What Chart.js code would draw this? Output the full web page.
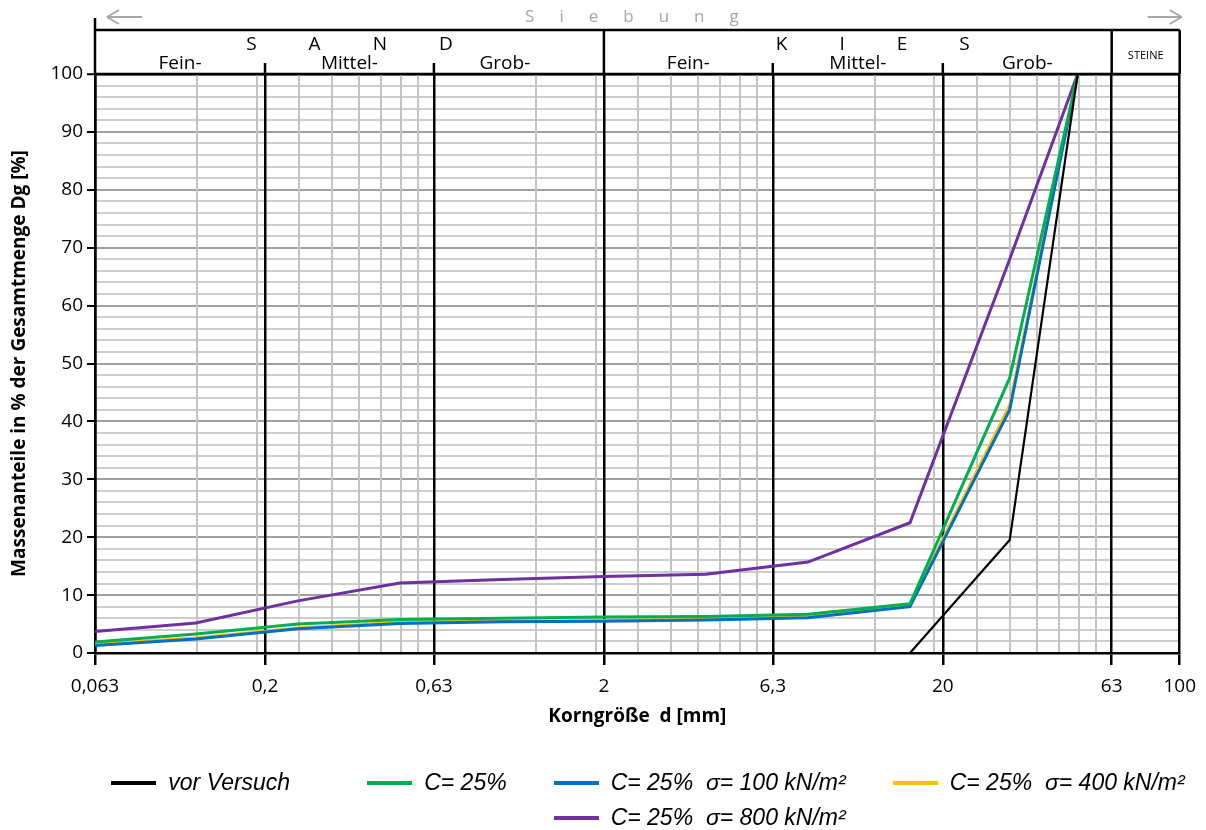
<!DOCTYPE html>
<html>
<head>
<meta charset="utf-8">
<script src="https://cdn.jsdelivr.net/npm/chart.js@4.4.0/dist/chart.umd.min.js"></script>
<style>
  html, body { margin: 0; padding: 0; background: #fff; }
  #wrap { position: relative; width: 1206px; height: 830px; overflow: hidden; }
  #legend {
    position: absolute; left: 45px; top: 769px; width: 1206px;
    display: grid; grid-template-columns: repeat(4, auto);
    column-gap: 47px; row-gap: 8px; justify-content: center;
    font: italic 23px "Liberation Sans", Arial, sans-serif; color: #000;
  }
  .item { display: flex; align-items: center; white-space: pre; line-height: 27px; }
  .swatch { width: 45px; height: 4px; margin-right: 12px; }
</style>
</head>
<body>
<div id="wrap">
  <canvas id="myChart" width="1206" height="830"></canvas>
  <div id="legend"></div>
</div>
<script>
// sieve sizes [mm]
const sizes = [0.063, 0.125, 0.25, 0.5, 1, 2, 4, 8, 16, 31.5, 50];

// passing [%]
const vorVersuch = [null, null, null, null, null, null, null, null, 0, 19.5, 100];
const c25 = [1.9, 3.3, 5.0, 5.8, 6.0, 6.2, 6.3, 6.7, 8.5, 47.5, 100];
const c25s100 = [1.3, 2.4, 4.2, 5.1, 5.4, 5.5, 5.7, 6.1, 8.0, 42, 100];
const c25s400 = [1.5, 2.6, 4.3, 5.3, 5.5, 5.6, 5.8, 6.3, 8.3, 42.8, 100];
const c25s800 = [3.7, 5.2, 9.0, 12.1, 12.7, 13.2, 13.6, 15.7, 22.5, 68, 100];

const seriesNames = ['vor Versuch', 'C= 25%', 'C= 25%  σ= 100 kN/m²', 'C= 25%  σ= 400 kN/m²', 'C= 25%  σ= 800 kN/m²'];
const seriesColors = ['#000000', '#00b050', '#0070c0', '#ffc000', '#7030a0'];

// x axis labels
const xTickValues = [0.063, 0.2, 0.63, 2, 6.3, 20, 63, 100];
const xTickLabels = ['0,063', '0,2', '0,63', '2', '6,3', '20', '63', '100'];
const gridDecades = [0.063, 0.63, 6.3, 63];
const gridSteps = [2, 3, 4, 5, 6, 7, 8, 9];

// header
const groupNames = ['SAND', 'KIES'];
const subNames = ['Fein-', 'Mittel-', 'Grob-', 'Fein-', 'Mittel-', 'Grob-'];

const same = (a, b) => Math.abs(a - b) / b < 0.001;
const isMajorX = v => xTickValues.some(t => same(v, t));

let xGrid = xTickValues.slice();
gridDecades.forEach(d => gridSteps.forEach(k => {
    if (d * k < 100) xGrid.push(d * k);
}));
xGrid.sort((a, b) => a - b);

const toPoints = arr => sizes.map((s, i) => ({ x: s, y: arr[i] }));
const allSeries = [vorVersuch, c25, c25s100, c25s400, c25s800];

Chart.defaults.font.family = '"Open Sans", sans-serif';
Chart.defaults.color = '#000';

const headerPlugin = {
    id: 'header',
    afterDraw(chart) {
        const ctx = chart.ctx;
        const xs = chart.scales.x;
        const area = chart.chartArea;
        const px = v => xs.getPixelForValue(v);
        const top = 30, bot = area.top;
        function line(x1, y1, x2, y2) {
            ctx.beginPath(); ctx.moveTo(x1, y1); ctx.lineTo(x2, y2); ctx.stroke();
        }
        ctx.save();
        ctx.strokeStyle = '#000';
        ctx.lineWidth = 2.5;
        line(area.left, top, area.right, top);
        line(area.left, bot, area.right, bot);
        line(area.left, 18, area.left, bot);
        line(area.right, top, area.right, bot);
        [2, 63].forEach(v => line(px(v), top, px(v), bot));
        [0.2, 0.63, 6.3, 20].forEach(v => line(px(v), bot - 11, px(v), bot));

        // Siebung arrows
        ctx.strokeStyle = '#a6a6a6';
        ctx.lineWidth = 2;
        line(area.left + 12, 17, area.left + 47, 17);
        line(area.left + 12, 17, area.left + 24, 10);
        line(area.left + 12, 17, area.left + 24, 24);
        line(area.right - 32, 17, area.right + 2, 17);
        line(area.right + 2, 17, area.right - 10, 10);
        line(area.right + 2, 17, area.right - 10, 24);

        ctx.textBaseline = 'alphabetic';
        ctx.textAlign = 'left';
        function spaced(text, cx, y, spacing) {
            ctx.letterSpacing = spacing + 'px';
            const w = ctx.measureText(text).width - spacing;
            ctx.fillText(text, cx - w / 2, y);
            ctx.letterSpacing = '0px';
        }
        ctx.fillStyle = '#a6a6a6';
        ctx.font = '17px "Open Sans"';
        spaced('Siebung', px(2) + 28, 22, 25);

        ctx.fillStyle = '#000';
        ctx.font = '19px "Open Sans"';
        spaced(groupNames[0], (px(0.063) + px(2)) / 2, 50, 52);
        spaced(groupNames[1], (px(2) + px(63)) / 2 + 15, 50, 52);

        ctx.font = '19px "Open Sans"';
        ctx.textAlign = 'center';
        const bounds = [0.063, 0.2, 0.63, 2, 6.3, 20, 63];
        subNames.forEach((n, i) => {
            let cx = (px(bounds[i]) + px(bounds[i + 1])) / 2;
            if (i === 2) cx -= 14;
            ctx.fillText(n, cx, 69);
        });
        ctx.font = '11px "Open Sans"';
        ctx.fillText('STEINE', (px(63) + px(100)) / 2, 59);
        ctx.restore();
    }
};

const ctx = document.getElementById('myChart');

const chart = new Chart(ctx, {
    type: 'line',
    data: {
        datasets: allSeries.map((arr, i) => ({
            label: seriesNames[i],
            data: toPoints(arr),
            borderColor: seriesColors[i],
            backgroundColor: seriesColors[i],
            borderWidth: i === 0 ? 2.2 : 3,
            pointRadius: 0,
            tension: 0
        }))
    },
    options: {
        responsive: false,
        animation: false,
        layout: { padding: { top: 74, right: 26, bottom: 102, left: 0 } },
        plugins: {
            legend: { display: false },
            tooltip: { enabled: false }
        },
        scales: {
            x: {
                type: 'logarithmic',
                min: 0.063,
                max: 100,
                afterBuildTicks: s => { s.ticks = xGrid.map(v => ({ value: v })); },
                afterFit: s => { s.height = 75; },
                ticks: {
                    autoSkip: false,
                    maxRotation: 0,
                    padding: 10,
                    font: { size: 19 },
                    callback: v => {
                        const i = xTickValues.findIndex(t => same(v, t));
                        return i >= 0 ? xTickLabels[i] : '';
                    }
                },
                grid: {
                    z: -1,
                    color: c => isMajorX(c.tick.value) ? '#000' : '#c4c4c4',
                    lineWidth: c => isMajorX(c.tick.value) ? 2.5 : 2,
                    tickLength: 12,
                    tickWidth: 2.5,
                    tickColor: c => isMajorX(c.tick.value) ? '#000' : 'rgba(0,0,0,0)'
                },
                border: { color: '#000', width: 2.5 },
                title: {
                    display: true,
                    text: 'Korngröße  d [mm]',
                    font: { size: 19, weight: 'bold' },
                    padding: 0
                }
            },
            y: {
                min: 0,
                max: 100,
                afterFit: s => { s.width = 95; },
                ticks: {
                    stepSize: 2,
                    autoSkip: false,
                    padding: 4,
                    font: { size: 19 },
                    callback: v => v % 10 === 0 ? String(v) : ''
                },
                grid: {
                    z: -2,
                    color: c => c.tick.value === 100 ? '#000' : (c.tick.value % 10 === 0 ? '#a0a0a0' : '#cdcdcd'),
                    lineWidth: c => c.tick.value === 100 ? 2.5 : 2,
                    tickLength: 8,
                    tickWidth: 2,
                    tickColor: c => c.tick.value % 10 === 0 ? '#000' : 'rgba(0,0,0,0)'
                },
                border: { color: '#000', width: 2.5 },
                title: {
                    display: true,
                    text: 'Massenanteile in % der Gesamtmenge Dg [%]',
                    font: { size: 19, weight: 'bold' },
                    padding: { top: 8, bottom: 0 }
                }
            }
        }
    },
    plugins: [headerPlugin]
});

// html legend
const legend = document.getElementById('legend');
chart.data.datasets.forEach((ds, i) => {
    const item = document.createElement('div');
    item.className = 'item';
    if (i === 1) item.style.marginLeft = '30px';
    if (i === 4) item.style.gridColumn = '3';
    const sw = document.createElement('span');
    sw.className = 'swatch';
    sw.style.background = ds.borderColor;
    const txt = document.createElement('span');
    txt.textContent = ds.label;
    item.appendChild(sw);
    item.appendChild(txt);
    legend.appendChild(item);
});
</script>
</body>
</html>
